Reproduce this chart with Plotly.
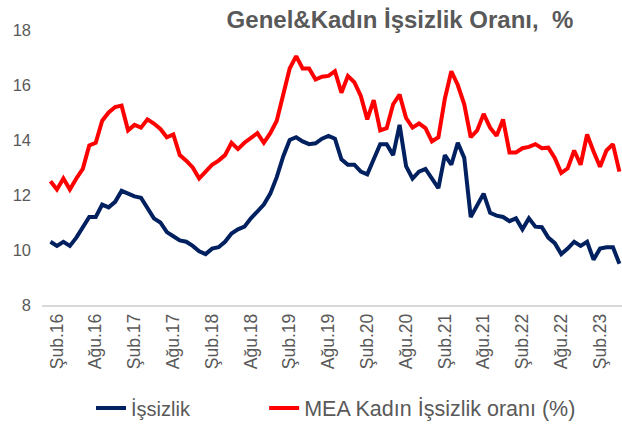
import plotly.graph_objects as go

tr_months = ["Oca", "Şub", "Mar", "Nis", "May", "Haz", "Tem", "Ağu", "Eyl", "Eki", "Kas", "Ara"]
months = []
for y in range(2016, 2024):
    for m in range(12):
        months.append(f"{tr_months[m]}.{str(y)[2:]}")
months = months[:89]  # Oca.16 .. May.23

issizlik = [10.3, 10.15, 10.3, 10.15, 10.45, 10.8, 11.2, 11.2, 11.65, 11.55,
            11.75, 12.15, 12.05, 11.95, 11.9, 11.5, 11.15, 11.0, 10.65, 10.5,
            10.35, 10.3, 10.15, 9.95, 9.85, 10.05, 10.1, 10.3, 10.6, 10.75,
            10.85, 11.15, 11.4, 11.65, 12.05, 12.65, 13.4, 14.0, 14.1, 13.95,
            13.85, 13.88, 14.05, 14.15, 14.05, 13.3, 13.1, 13.1, 12.85, 12.75,
            13.3, 13.85, 13.85, 13.45, 14.55, 13.05, 12.6, 12.85, 12.95, 12.6,
            12.25, 13.45, 13.1, 13.9, 13.35, 11.2, 11.6, 12.05, 11.35, 11.25,
            11.2, 11.05, 11.15, 10.75, 11.15, 10.85, 10.83, 10.45, 10.25, 9.85,
            10.05, 10.3, 10.15, 10.3, 9.65, 10.05, 10.1, 10.1, 9.5]

kadin = [12.5, 12.2, 12.6, 12.2, 12.6, 12.95, 13.8, 13.9, 14.7, 15.0,
         15.2, 15.25, 14.35, 14.55, 14.45, 14.75, 14.6, 14.4, 14.1, 14.2,
         13.45, 13.25, 13.0, 12.6, 12.85, 13.1, 13.25, 13.45, 13.9, 13.67,
         13.9, 14.07, 14.25, 13.9, 14.25, 14.7, 15.6, 16.6, 17.05, 16.6,
         16.6, 16.2, 16.3, 16.33, 16.5, 15.72, 16.33, 16.1, 15.6, 14.75,
         15.45, 14.35, 14.43, 15.3, 15.65, 14.8, 14.45, 14.6, 14.43, 13.95,
         14.1, 15.5, 16.5, 16.0, 15.3, 14.1, 14.35, 14.95, 14.45, 14.15,
         14.75, 13.55, 13.55, 13.7, 13.75, 13.85, 13.7, 13.72, 13.35, 12.8,
         12.97, 13.62, 13.1, 14.2, 13.58, 13.03, 13.62, 13.85, 12.85]

tick_idx = [i for i, m in enumerate(months) if m.startswith("Şub") or m.startswith("Ağu")]
tick_text = [months[i] for i in tick_idx]
y_ticks = [8, 10, 12, 14, 16, 18]

x = list(range(len(months)))
grey = "#595959"
font_family = "Liberation Sans"

fig = go.Figure()
fig.add_trace(go.Scatter(x=x, y=issizlik, mode="lines", name="İşsizlik",
                         line=dict(color="#002060", width=4), legend="legend"))
fig.add_trace(go.Scatter(x=x, y=kadin, mode="lines", name="MEA Kadın İşsizlik oranı (%)",
                         line=dict(color="#FF0000", width=4), legend="legend2"))

leg_common = dict(orientation="h", yanchor="middle", y=-0.3745, xanchor="left",
                  bgcolor="rgba(0,0,0,0)")

fig.update_layout(
    width=622, height=433,
    margin=dict(l=42, r=0, t=30, b=128, autoexpand=False),
    paper_bgcolor="white", plot_bgcolor="white",
    font=dict(family=font_family, color=grey),
    title=dict(text="<b>Genel&Kadın İşsizlik Oranı,  %</b>", x=400 / 622, xanchor="center",
               xref="container", y=1 - 20 / 433, yanchor="middle", yref="container",
               font=dict(size=24, color=grey, family=font_family)),
    xaxis=dict(range=[-1.31, 88.4], tickmode="array", tickvals=tick_idx, ticktext=tick_text,
               tickangle=-90, showgrid=False, zeroline=False, showline=True,
               linecolor="#d9d9d9", linewidth=1.5, ticks="", automargin=False,
               tickfont=dict(size=17.5, color=grey)),
    yaxis=dict(range=[8, 18], tickvals=y_ticks, showgrid=False, zeroline=False,
               showline=False, ticks="", automargin=False,
               tickfont=dict(size=16.5, color=grey), ticklabelstandoff=10),
    legend=dict(x=0.0845, font=dict(size=20, color=grey, family=font_family), **leg_common),
    legend2=dict(x=0.383, font=dict(size=21.5, color=grey, family=font_family), **leg_common),
    showlegend=True,
)

fig.write_html("out.html", config={"displayModeBar": False},
               post_script="document.body.style.margin='0';")
